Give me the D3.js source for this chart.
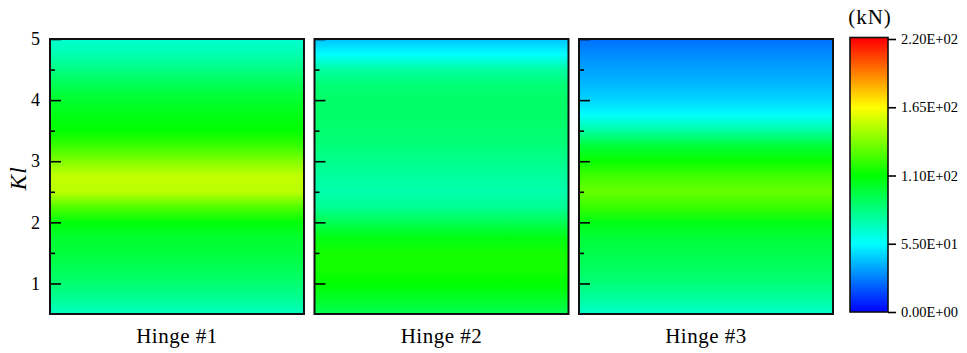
<!DOCTYPE html>
<html>
<head>
<meta charset="utf-8">
<script src="https://cdn.jsdelivr.net/npm/d3@7"></script>
<style>
  body { margin: 0; background: #fff; }
  svg { display: block; }
  svg text { font-family: "Liberation Serif", "Times New Roman", serif; fill: #000; }
</style>
</head>
<body>
<svg id="chart" width="967" height="353"></svg>
<script>
// Kl positions where the force was sampled
const kl = [0.5, 0.75, 1, 1.25, 1.5, 1.75, 2, 2.25, 2.5, 2.75, 3, 3.25, 3.5, 3.75, 4, 4.25, 4.5, 4.75, 5];

// hinge force (kN) along Kl
const hinge1 = [68, 78, 86, 92, 97, 100, 108, 128, 150, 152, 138, 122, 110, 106, 100, 92, 82, 72, 65];
const hinge2 = [92, 102, 110, 114, 114, 106, 92, 78, 73, 76, 80, 84, 86, 88, 88, 85, 75, 55, 42];
const hinge3 = [66, 76, 84, 90, 94, 98, 106, 122, 132, 124, 112, 98, 75, 56, 46, 40, 35, 30, 24];

const hinges = ['Hinge #1', 'Hinge #2', 'Hinge #3'];
const series = [hinge1, hinge2, hinge3];

const barTicks = [0, 55, 110, 165, 220];
const barLabels = ['0.00E+00', '5.50E+01', '1.10E+02', '1.65E+02', '2.20E+02'];

const svg = d3.select('#chart');
const margin = { top: 39, bottom: 39, left: 50 };
const panelW = 254, gap = 10.5;
const height = 353;

const y = d3.scaleLinear().domain([0.5, 5]).range([height - margin.bottom, margin.top]);
const x = d3.scaleBand().domain(hinges)
  .range([margin.left, margin.left + 3 * panelW + 2 * gap])
  .paddingInner(gap / (panelW + gap));

// jet-like palette: blue -> cyan -> green -> yellow -> red
const color = d3.scaleLinear()
  .domain(barTicks)
  .range(['#0000ff', '#00ffff', '#00ff00', '#ffff00', '#ff0000'])
  .interpolate(d3.interpolateRgb)
  .clamp(true);

const defs = svg.append('defs');

// one vertical gradient per hinge, a stop at every sampled Kl
series.forEach((vals, i) => {
  const g = defs.append('linearGradient')
    .attr('id', 'grad' + i)
    .attr('gradientUnits', 'userSpaceOnUse')
    .attr('x1', 0).attr('x2', 0)
    .attr('y1', y(0.5)).attr('y2', y(5));
  g.selectAll('stop')
    .data(kl)
    .enter()
    .append('stop')
    .attr('offset', d => (d - 0.5) / 4.5)
    .attr('stop-color', (d, j) => color(vals[j]));
});

hinges.forEach((name, i) => {
  const x0 = x(name);
  svg.append('rect')
    .attr('x', x0)
    .attr('y', y(5))
    .attr('width', x.bandwidth())
    .attr('height', y(0.5) - y(5))
    .attr('fill', 'url(#grad' + i + ')');

  // ticks point into the panel
  const ax = svg.append('g')
    .attr('transform', 'translate(' + x0 + ',0)')
    .call(d3.axisRight(y).tickValues([1, 2, 3, 4, 5]).tickSize(11).tickFormat(''));
  ax.select('.domain').remove();
  ax.selectAll('line').attr('stroke', '#000').attr('stroke-width', 1.6);

  const minor = svg.append('g')
    .attr('transform', 'translate(' + x0 + ',0)')
    .call(d3.axisRight(y).tickValues([1.5, 2.5, 3.5, 4.5]).tickSize(5).tickFormat(''));
  minor.select('.domain').remove();
  minor.selectAll('line').attr('stroke', '#000').attr('stroke-width', 1.6);

  svg.append('rect')
    .attr('x', x0)
    .attr('y', y(5))
    .attr('width', x.bandwidth())
    .attr('height', y(0.5) - y(5))
    .attr('fill', 'none')
    .attr('stroke', '#111')
    .attr('stroke-width', 2);

  svg.append('text')
    .attr('x', x0 + x.bandwidth() / 2)
    .attr('y', 343)
    .attr('text-anchor', 'middle')
    .style('font-size', '21px')
    .style('letter-spacing', '0.5px')
    .text(name);
});

// left tick labels
const yLabels = svg.append('g')
  .attr('transform', 'translate(' + margin.left + ',0)')
  .attr('font-family', null)
  .attr('font-size', null)
  .call(d3.axisLeft(y).tickValues([1, 2, 3, 4, 5]).tickSize(0).tickPadding(10)
    .tickFormat(d3.format('d')));
yLabels.attr('font-family', null).attr('font-size', null);
yLabels.select('.domain').remove();
yLabels.selectAll('text').style('font-size', '18px');

svg.append('text')
  .attr('transform', 'translate(26,' + y(2.72) + ') rotate(-90)')
  .attr('text-anchor', 'middle')
  .style('font-size', '23px')
  .style('font-style', 'italic')
  .style('letter-spacing', '1px')
  .text('Kl');

// colour bar
const barX = 850, barW = 38;
const yc = d3.scaleLinear().domain([0, 220]).range([312, 39]);

const cg = defs.append('linearGradient')
  .attr('id', 'barGrad')
  .attr('gradientUnits', 'userSpaceOnUse')
  .attr('x1', 0).attr('x2', 0)
  .attr('y1', yc(0)).attr('y2', yc(220));
cg.selectAll('stop')
  .data(barTicks)
  .enter()
  .append('stop')
  .attr('offset', d => d / 220)
  .attr('stop-color', d => color(d));

svg.append('rect')
  .attr('x', barX).attr('y', yc(220) - 1.5)
  .attr('width', barW).attr('height', yc(0) - yc(220) + 1.5)
  .attr('fill', 'url(#barGrad)')
  .attr('stroke', '#111')
  .attr('stroke-width', 1.6);

const cax = svg.append('g')
  .attr('transform', 'translate(' + (barX + barW) + ',0)')
  .call(d3.axisRight(yc).tickValues(barTicks).tickSize(8).tickPadding(5)
    .tickFormat((d, i) => barLabels[i]));
cax.attr('font-family', null).attr('font-size', null);
cax.select('.domain').remove();
cax.selectAll('line').attr('stroke', '#000').attr('stroke-width', 1.6);
cax.selectAll('text').style('font-size', '14.5px');

svg.append('text')
  .attr('x', barX + barW / 2 + 1)
  .attr('y', 24)
  .attr('text-anchor', 'middle')
  .style('font-size', '21px')
  .style('letter-spacing', '1px')
  .text('(kN)');
</script>
</body>
</html>
